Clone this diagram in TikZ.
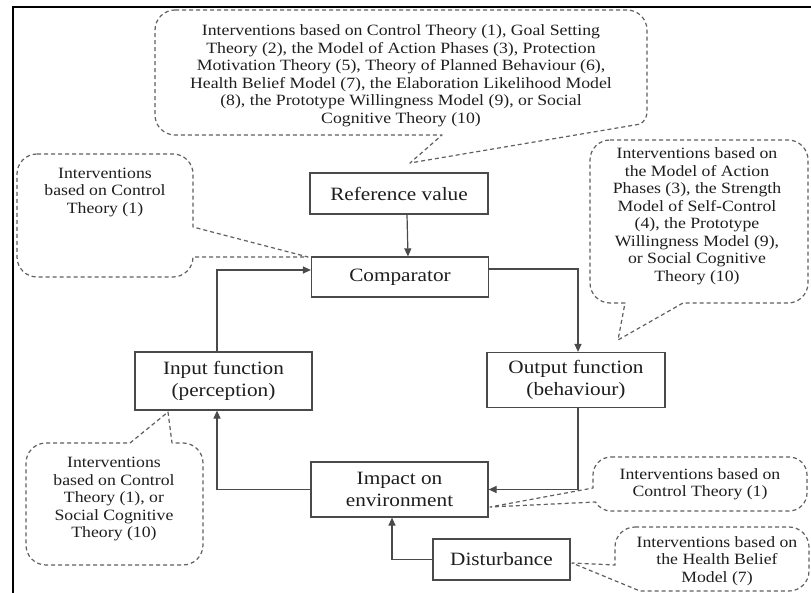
\documentclass[tikz,border=0pt]{standalone}
\usepackage{fontspec}
\setmainfont{Liberation Serif}[FakeStretch=1.13]
\usetikzlibrary{arrows.meta,calc}
\definecolor{boxline}{HTML}{4A4A4A}
\definecolor{dashline}{HTML}{606060}
\definecolor{txt}{HTML}{1E1E1E}
\tikzset{
  block/.style={draw=boxline, line width=1.2pt, inner sep=0pt, align=center, text=txt,
    font=\fontsize{18.8}{22}\selectfont},
  arr/.style={draw=boxline, line width=1.2pt, -{Triangle[length=8pt,width=7pt]}},
  callout/.style={draw=dashline, line width=1.2pt, dash pattern=on 4pt off 3pt, line join=round},
  ctext/.style={align=center, text=txt, inner sep=0pt, font=\fontsize{15.7}{17.5}\selectfont},
}
\begin{document}
\begin{tikzpicture}[x=1pt,y=-1pt]
\useasboundingbox (0,0) rectangle (811,593);
\fill[white] (0,0) rectangle (811,593);
% frame
\draw[black, line width=2.4pt] (13,593) -- (13,7) -- (812,7);

% blocks
\node[block, minimum width=178pt, minimum height=41pt] (ref) at (399,193.5) {Reference value};
\node[block, minimum width=177pt, minimum height=40pt] (comp) at (400,277) {Comparator};
\node[block, minimum width=177pt, minimum height=58pt] (inp) at (223.5,381) {Input function\\(perception)};
\node[block, minimum width=178pt, minimum height=55pt] (outp) at (576,380) {Output function\\(behaviour)};
\node[block, minimum width=177pt, minimum height=55pt] (imp) at (399.5,489.5) {Impact on\\environment};
\node[block, minimum width=137pt, minimum height=41pt] (dist) at (501.5,559.5) {Disturbance};

% connectors
\draw[arr] ($(ref.south)+(8,0)$) -- ($(comp.north)+(8,0)$);
\draw[arr] ($(comp.east)+(0,-8)$) -| ($(outp.north)+(2,0)$);
\draw[arr] ($(outp.south)+(2,0)$) |- (imp.east);
\draw[arr] (imp.west) -| ($(inp.south)+(-6.5,0)$);
\draw[arr] ($(inp.north)+(-6.5,0)$) |- ($(comp.west)+(0,-7)$);
\draw[arr] (dist.west) -| ($(imp.south)+(-7.5,0)$);

% callout 1 (top)
\draw[callout] (175,10) -- (627,10) arc[start angle=270,end angle=360,radius=20]
  -- (647,112) arc[start angle=0,end angle=60,radius=14]
  -- (410,163) -- (442,135) -- (175,135) arc[start angle=90,end angle=180,radius=20]
  -- (155,30) arc[start angle=180,end angle=270,radius=20] -- cycle;
\node[ctext] (c1) at (401,76) {Interventions based on Control Theory (1), Goal Setting\\
Theory (2), the Model of Action Phases (3), Protection\\
Motivation Theory (5), Theory of Planned Behaviour (6),\\
Health Belief Model (7), the Elaboration Likelihood Model\\
(8), the Prototype Willingness Model (9), or Social\\
Cognitive Theory (10)};

% callout 2 (left)
\draw[callout] (37,154) -- (173,154) arc[start angle=270,end angle=360,radius=20]
  -- (193,227) -- (308,257) -- (193,257)
  arc[start angle=0,end angle=90,radius=20]
  -- (37,277) arc[start angle=90,end angle=180,radius=20]
  -- (17,174) arc[start angle=180,end angle=270,radius=20] -- cycle;
\node[ctext] (c2) at (105,192) {Interventions\\based on Control\\Theory (1)};

% callout 3 (right, above output)
\draw[callout] (610,140) -- (788,140) arc[start angle=270,end angle=360,radius=20]
  -- (808,283) arc[start angle=0,end angle=90,radius=20]
  -- (683,303) -- (618,340) -- (625,303)
  -- (610,303) arc[start angle=90,end angle=180,radius=20]
  -- (590,160) arc[start angle=180,end angle=270,radius=20] -- cycle;
\node[ctext] (c3) at (697,216) {Interventions based on\\the Model of Action\\Phases (3), the Strength\\Model of Self-Control\\(4), the Prototype\\Willingness Model (9),\\or Social Cognitive\\Theory (10)};

% callout 4 (bottom left)
\draw[callout] (46,443) -- (130,443) -- (168,412) -- (172,443)
  -- (183,443) arc[start angle=270,end angle=360,radius=20]
  -- (203,545) arc[start angle=0,end angle=90,radius=20]
  -- (46,565) arc[start angle=90,end angle=180,radius=20]
  -- (26,463) arc[start angle=180,end angle=270,radius=20] -- cycle;
\node[ctext] (c4) at (114,499) {Interventions\\based on Control\\Theory (1), or\\Social Cognitive\\Theory (10)};

% callout 5 (right, control theory)
\draw[callout] (611,457) -- (789,457) arc[start angle=270,end angle=360,radius=18]
  -- (807,493) arc[start angle=0,end angle=90,radius=18]
  -- (611,511) arc[start angle=90,end angle=150,radius=18]
  -- (490,507) -- (593,488)
  -- (593,475) arc[start angle=180,end angle=270,radius=18] -- cycle;
\node[ctext] (c5) at (700,484) {Interventions based on\\Control Theory (1)};

% callout 6 (bottom right)
\draw[callout] (635,527) -- (789,527) arc[start angle=270,end angle=360,radius=20]
  -- (809,571) arc[start angle=0,end angle=90,radius=20]
  -- (640,591) -- (572,563) -- (615,565)
  -- (615,547) arc[start angle=180,end angle=270,radius=20] -- cycle;
\node[ctext] (c6) at (717,561) {Interventions based on\\the Health Belief\\Model (7)};
\end{tikzpicture}
\end{document}
